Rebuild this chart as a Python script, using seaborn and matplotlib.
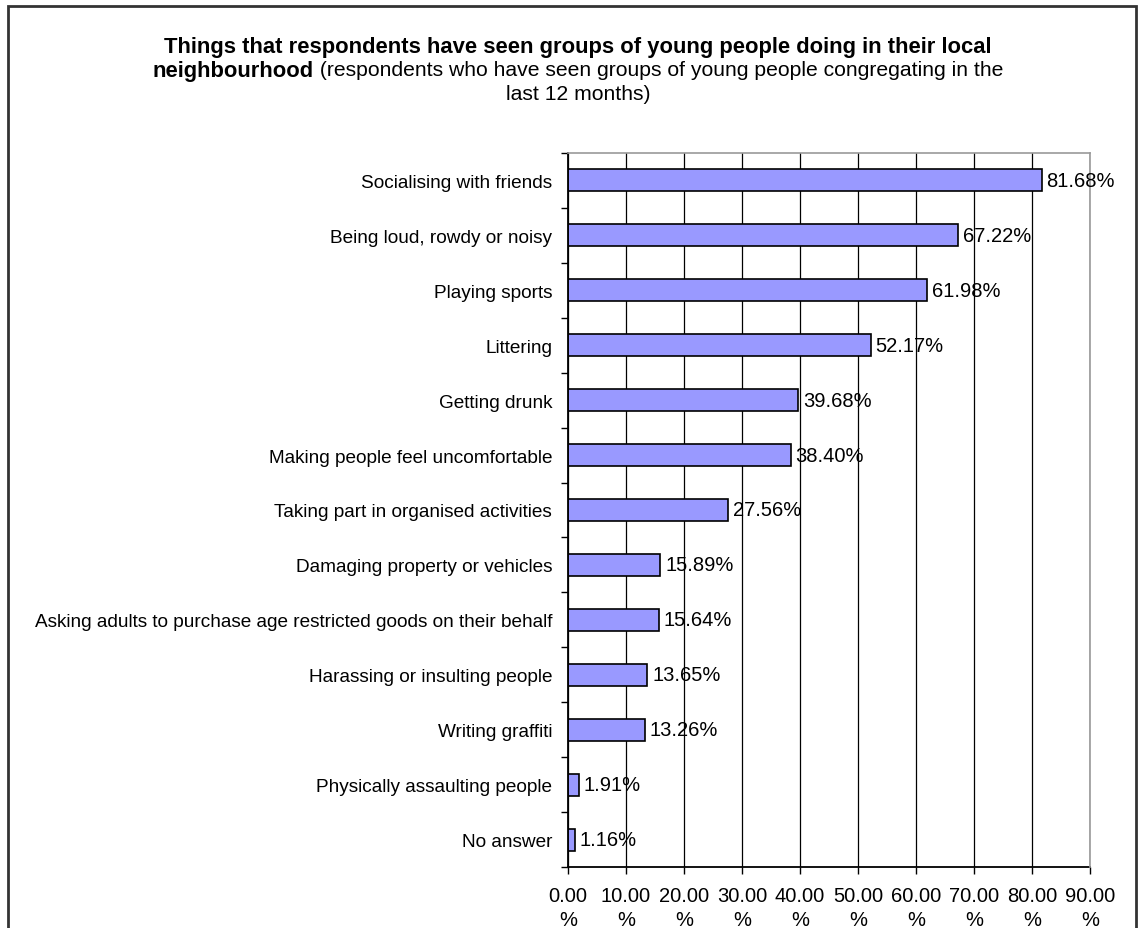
import matplotlib
matplotlib.use("Agg")
import matplotlib.pyplot as plt
import matplotlib.patches as mpatches
from matplotlib.ticker import FixedLocator
import seaborn as sns
import pandas as pd

categories = [
    "Socialising with friends",
    "Being loud, rowdy or noisy",
    "Playing sports",
    "Littering",
    "Getting drunk",
    "Making people feel uncomfortable",
    "Taking part in organised activities",
    "Damaging property or vehicles",
    "Asking adults to purchase age restricted goods on their behalf",
    "Harassing or insulting people",
    "Writing graffiti",
    "Physically assaulting people",
    "No answer",
]
values = [81.68, 67.22, 61.98, 52.17, 39.68, 38.40, 27.56, 15.89, 15.64, 13.65, 13.26, 1.91, 1.16]
x_ticks = [0, 10, 20, 30, 40, 50, 60, 70, 80, 90]
x_tick_labels = [f"{t:.2f}\n%" for t in x_ticks]

title_bold_1 = "Things that respondents have seen groups of young people doing in their local"
title_bold_2 = "neighbourhood"
title_norm_2 = " (respondents who have seen groups of young people congregating in the"
title_norm_3 = "last 12 months)"

sns.set_theme(style="white")
plt.rcParams["font.family"] = ["Liberation Sans", "DejaVu Sans"]
plt.rcParams["text.color"] = "black"
plt.rcParams["xtick.labelcolor"] = "black"
plt.rcParams["ytick.labelcolor"] = "black"
FS_CAT = 13.7
FS_NUM = 14.5
FS_TB = 15.8
FS_TN = 15.2

W, H = 1139, 929
fig = plt.figure(figsize=(W / 100, H / 100), dpi=100)
fig.patch.set_facecolor("white")

ax = fig.add_axes([568 / W, 1 - 868 / H, (1090 - 568) / W, (868 - 154) / H])

df = pd.DataFrame({"category": categories, "value": values})
sns.barplot(data=df, x="value", y="category", orient="h", color="#9999FF",
            edgecolor="black", linewidth=1.2, width=0.4, saturation=1, ax=ax)

ax.set_xlim(0, 90)
ax.set_ylim(len(categories) - 0.5, -0.5)
ax.set_xlabel("")
ax.set_ylabel("")

# vertical gridlines
ax.set_axisbelow(True)
ax.xaxis.grid(True, color="black", linewidth=0.9)
ax.yaxis.grid(False)

ax.set_xticks(x_ticks)
ax.set_xticklabels(x_tick_labels, fontsize=FS_NUM, linespacing=1.3, color="black")
ax.tick_params(axis="x", direction="out", length=5, width=1, color="black", pad=9,
               bottom=True)

ax.tick_params(axis="y", which="major", length=0, pad=11.5, labelsize=FS_CAT,
               labelcolor="black")
ax.yaxis.set_minor_locator(FixedLocator([i - 0.5 for i in range(len(categories) + 1)]))
ax.tick_params(axis="y", which="minor", direction="out", length=5, width=1,
               color="black", left=True)

for side in ["left", "bottom"]:
    ax.spines[side].set_color("black")
    ax.spines[side].set_linewidth(1.3)
for side in ["top", "right"]:
    ax.spines[side].set_color("#999999")
    ax.spines[side].set_linewidth(1.2)
    ax.spines[side].set_zorder(3)

# value labels at bar ends
for i, v in enumerate(values):
    ax.annotate(f"{v:.2f}%", xy=(v, i), xytext=(3.5, 0), textcoords="offset points",
                ha="left", va="center", fontsize=FS_NUM, color="black", zorder=5,
                annotation_clip=False)

# title: bold heading followed by a plain-weight note
cx = 578 / W
fig.text(cx, 1 - 47 / H, title_bold_1, ha="center", va="center",
         fontsize=FS_TB, fontweight="bold", color="black")
t_b = fig.text(0, 1 - 71 / H, title_bold_2, ha="left", va="center",
               fontsize=FS_TB, fontweight="bold", color="black")
t_n = fig.text(0, 1 - 71 / H, title_norm_2, ha="left", va="center",
               fontsize=FS_TN, color="black")
renderer = fig.canvas.get_renderer()
wb = t_b.get_window_extent(renderer).width
wn = t_n.get_window_extent(renderer).width
x0 = cx * W - (wb + wn) / 2
t_b.set_x(x0 / W)
t_n.set_x((x0 + wb) / W)
fig.text(cx, 1 - 95 / H, title_norm_3, ha="center", va="center",
         fontsize=FS_TN, color="black")

# outer chart frame
frame = mpatches.Rectangle((8 / W, -0.2), (1136 - 8) / W, 1.2 - 7 / H,
                           transform=fig.transFigure, fill=False,
                           edgecolor="#333333", linewidth=2, zorder=10)
fig.patches.append(frame)

fig.savefig("out.png", dpi=100, facecolor="white")
